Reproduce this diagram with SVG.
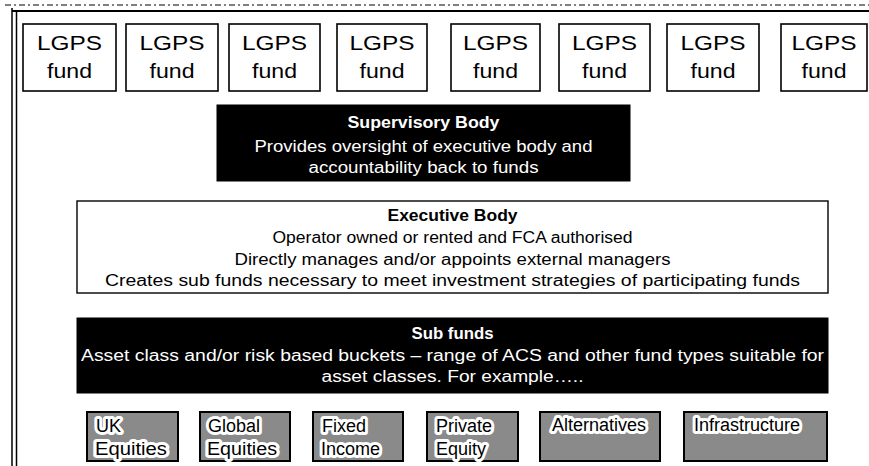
<svg xmlns="http://www.w3.org/2000/svg" width="869" height="466" viewBox="0 0 869 466">
  <style>
    text { font-family: "Liberation Sans", Arial, sans-serif; fill: #000; }
    .fund rect { fill: #fff; stroke: #000; stroke-width: 1.6; }
    .fund text { font-size: 21px; text-anchor: middle; }
    .dark rect { fill: #000; stroke: #000; }
    .dark text { fill: #fff; font-size: 16px; text-anchor: middle; }
    .light rect { fill: #fff; stroke: #000; stroke-width: 1.4; }
    .light text { font-size: 16px; text-anchor: middle; }
    .title { font-weight: bold; }
    .asset rect { fill: #8a8a8a; stroke: #000; stroke-width: 2; }
    .asset text { font-size: 18px; stroke: #fff; stroke-width: 6; paint-order: stroke; stroke-linejoin: round; }
  </style>

  <!-- outer frame -->
  <g id="frame" fill="none" stroke="#000">
    <line x1="5" y1="5" x2="869" y2="5" stroke-width="1" stroke-dasharray="6 3 2 3"/>
    <line x1="12" y1="11" x2="869" y2="11" stroke-width="2"/>
    <line x1="12" y1="8" x2="12" y2="466" stroke-width="1.5"/>
    <line x1="16.5" y1="11" x2="16.5" y2="466" stroke-width="1.5"/>
  </g>

  <!-- participating funds -->
  <g id="fund1" class="fund"><rect x="23" y="24" width="93" height="67"/><text x="69.5" y="50" textLength="65" lengthAdjust="spacingAndGlyphs">LGPS</text><text x="69.5" y="78" textLength="45" lengthAdjust="spacingAndGlyphs">fund</text></g>
  <g id="fund2" class="fund"><rect x="126" y="24" width="92" height="67"/><text x="172" y="50" textLength="65" lengthAdjust="spacingAndGlyphs">LGPS</text><text x="172" y="78" textLength="45" lengthAdjust="spacingAndGlyphs">fund</text></g>
  <g id="fund3" class="fund"><rect x="229" y="24" width="91" height="67"/><text x="274.5" y="50" textLength="65" lengthAdjust="spacingAndGlyphs">LGPS</text><text x="274.5" y="78" textLength="45" lengthAdjust="spacingAndGlyphs">fund</text></g>
  <g id="fund4" class="fund"><rect x="337" y="24" width="90" height="67"/><text x="382" y="50" textLength="65" lengthAdjust="spacingAndGlyphs">LGPS</text><text x="382" y="78" textLength="45" lengthAdjust="spacingAndGlyphs">fund</text></g>
  <g id="fund5" class="fund"><rect x="451" y="24" width="89" height="67"/><text x="495.5" y="50" textLength="65" lengthAdjust="spacingAndGlyphs">LGPS</text><text x="495.5" y="78" textLength="45" lengthAdjust="spacingAndGlyphs">fund</text></g>
  <g id="fund6" class="fund"><rect x="559" y="24" width="91" height="67"/><text x="604.5" y="50" textLength="65" lengthAdjust="spacingAndGlyphs">LGPS</text><text x="604.5" y="78" textLength="45" lengthAdjust="spacingAndGlyphs">fund</text></g>
  <g id="fund7" class="fund"><rect x="667" y="24" width="92" height="67"/><text x="713" y="50" textLength="65" lengthAdjust="spacingAndGlyphs">LGPS</text><text x="713" y="78" textLength="45" lengthAdjust="spacingAndGlyphs">fund</text></g>
  <g id="fund8" class="fund"><rect x="781" y="24" width="86" height="67"/><text x="824" y="50" textLength="65" lengthAdjust="spacingAndGlyphs">LGPS</text><text x="824" y="78" textLength="45" lengthAdjust="spacingAndGlyphs">fund</text></g>

  <!-- governance layers -->
  <g id="supervisory" class="dark">
    <rect x="217" y="105" width="413" height="76"/>
    <text x="423.5" y="128" class="title" textLength="152" lengthAdjust="spacingAndGlyphs">Supervisory Body</text>
    <text x="423.5" y="152" textLength="338" lengthAdjust="spacingAndGlyphs">Provides oversight of executive body and</text>
    <text x="423.5" y="173" textLength="230" lengthAdjust="spacingAndGlyphs">accountability back to funds</text>
  </g>

  <g id="executive" class="light">
    <rect x="77" y="201" width="751" height="92"/>
    <text x="452.5" y="221" class="title" textLength="130" lengthAdjust="spacingAndGlyphs">Executive Body</text>
    <text x="452.5" y="243" textLength="360" lengthAdjust="spacingAndGlyphs">Operator owned or rented and FCA authorised</text>
    <text x="452.5" y="265" textLength="436" lengthAdjust="spacingAndGlyphs">Directly manages and/or appoints external managers</text>
    <text x="452.5" y="286" textLength="695" lengthAdjust="spacingAndGlyphs">Creates sub funds necessary to meet investment strategies of participating funds</text>
  </g>

  <g id="subfunds" class="dark">
    <rect x="77" y="318" width="751" height="75"/>
    <text x="452.5" y="339" class="title" textLength="82" lengthAdjust="spacingAndGlyphs">Sub funds</text>
    <text x="452.5" y="361" textLength="743" lengthAdjust="spacingAndGlyphs">Asset class and/or risk based buckets – range of ACS and other fund types suitable for</text>
    <text x="452.5" y="382" textLength="262" lengthAdjust="spacingAndGlyphs">asset classes. For example…..</text>
  </g>

  <!-- asset class examples -->
  <g id="uk-equities" class="asset"><rect x="87" y="412" width="91" height="49"/><text x="96" y="432">UK</text><text x="95" y="455" textLength="72" lengthAdjust="spacingAndGlyphs">Equities</text></g>
  <g id="global-equities" class="asset"><rect x="200" y="412" width="90" height="49"/><text x="208" y="432">Global</text><text x="207" y="455" textLength="70" lengthAdjust="spacingAndGlyphs">Equities</text></g>
  <g id="fixed-income" class="asset"><rect x="313" y="412" width="90" height="49"/><text x="322" y="432">Fixed</text><text x="321" y="455">Income</text></g>
  <g id="private-equity" class="asset"><rect x="427" y="412" width="91" height="49"/><text x="436" y="432">Private</text><text x="436" y="455">Equity</text></g>
  <g id="alternatives" class="asset"><rect x="540" y="412" width="120" height="49"/><text x="552" y="431">Alternatives</text></g>
  <g id="infrastructure" class="asset"><rect x="684" y="412" width="143" height="49"/><text x="694" y="431">Infrastructure</text></g>
</svg>
